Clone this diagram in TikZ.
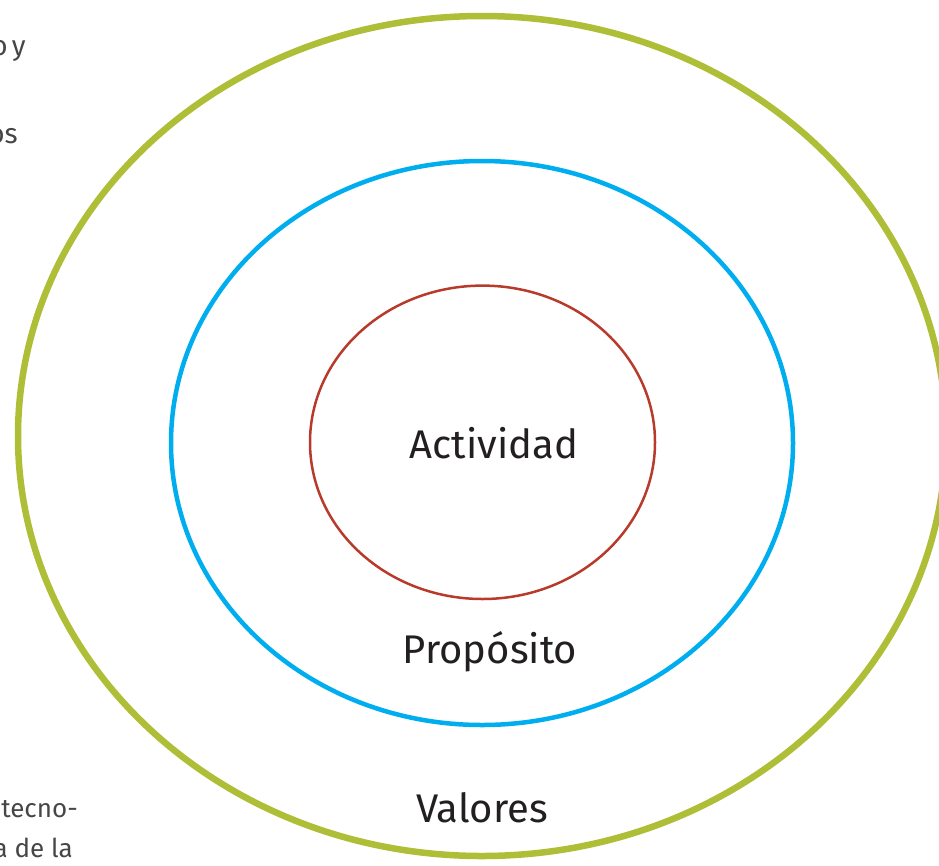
\documentclass[tikz,border=0pt]{standalone}
\usepackage{fontspec}
\setmainfont{Fira Sans}
\definecolor{valgreen}{RGB}{174,190,55}
\definecolor{propblue}{RGB}{0,174,239}
\definecolor{actred}{RGB}{184,58,42}
\definecolor{ink}{RGB}{35,31,32}
\definecolor{pagegray}{RGB}{70,70,70}
\begin{document}
\begin{tikzpicture}[x=1pt,y=-1pt,
  ring/.style={anchor=base, text=ink, font=\fontsize{40}{48}\selectfont},
  pagetext/.style={anchor=base east, inner sep=0pt, text=pagegray}]
\useasboundingbox (0,0) rectangle (939,865);
%\draw [help lines, step=50] (0,0) grid (939,865);
% rings
\draw [valgreen, line width=6.5pt] (482,436) ellipse (464 and 420);
\draw [propblue, line width=4.5pt] (482,443) ellipse (311 and 282);
\draw [actred, line width=2.5pt] (482.5,442.3) ellipse (172.5 and 156.7);
% labels
\node [ring] (act) at (494,458) {Actividad};
\node [ring] (prop) at (490,663) {Propósito};
\node [ring] (val) at (482,822) {Valores};
% cut text of the page
\node [pagetext, font=\fontsize{28}{34}\selectfont] (oy) at (26,55) {o\hspace{0.15em}y};
\node [pagetext, font=\fontsize{28}{34}\selectfont] (os) at (18,143) {os};
\node [pagetext, font=\fontsize{26}{31}\selectfont] (tecno) at (78,817) {tecno-};
\node [pagetext, font=\fontsize{26}{31}\selectfont] (dela) at (73,857) {a de la};
\end{tikzpicture}
\end{document}
